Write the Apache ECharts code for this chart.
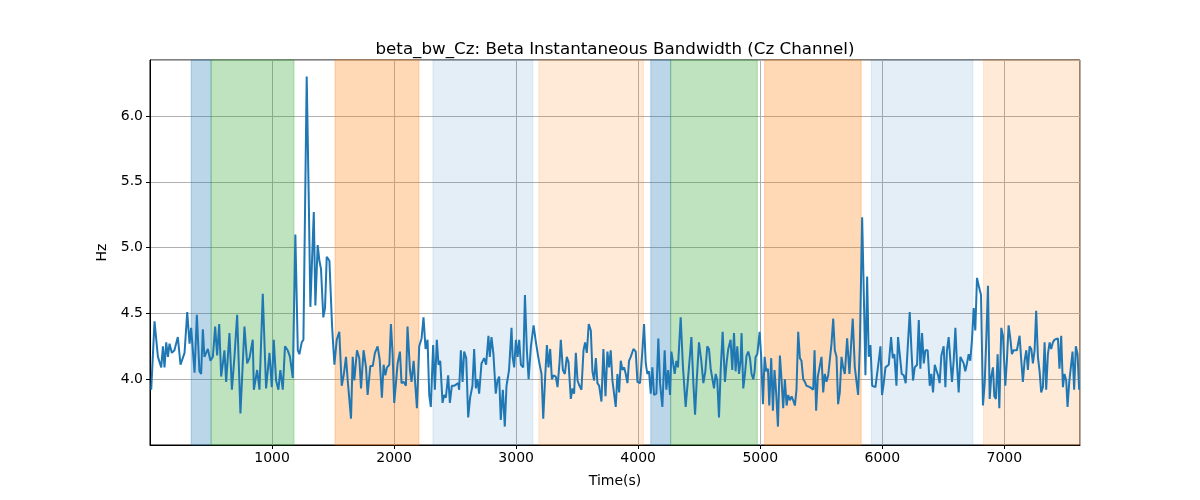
<!DOCTYPE html>
<html>
<head>
<meta charset="utf-8">
<script src="https://cdn.jsdelivr.net/npm/echarts@6/dist/echarts.min.js"></script>
<style>html,body{margin:0;padding:0;background:#fff}#c{width:1200px;height:500px}</style>
</head>
<body>
<div id="c"></div>
<script>
const times = [10,37,65,92,106,119,133,147,160,179,200,228,250,283,305,324,337,365,384,405,419,433,446,474,495,515,534,550,567,583,597,610,624,651,671,692,714,741,774,796,815,842,851,878,897,924,951,979,998,
1014,1033,1052,1068,1088,1106,1128,1147,1170,1191,1211,1224,1243,1257,1284,1301,1314,1328,1342,1355,1374,1388,1401,1420,1434,1448,1470,1492,1511,1530,1551,1571,1587,1606,1620,1647,1661,1674,1696,1715,1729,1750,1770,1783,1805,1825,1843,1865,1882,1900,1914,1928,1942,1961,1974,1988,
2001,2029,2048,2061,2078,2097,2110,2130,2143,2160,2173,2187,2206,2225,2241,2258,2274,2288,2301,2320,2334,2350,2364,2378,2397,2410,2424,2443,2457,2473,2492,2506,2525,2533,2547,2561,2574,2591,2607,2623,2642,2656,2670,2683,2697,2716,2738,2754,2773,2784,2798,2814,2833,2847,2861,2874,2891,2907,2921,2942,2962,
2971,2984,2998,3012,3025,3039,3058,3072,3088,3102,3121,3143,3162,3181,3197,3208,3222,3238,3252,3265,3279,3293,3306,3325,3339,3355,3366,3383,3399,3415,3429,3448,3462,3475,3489,3503,3519,3535,3552,3565,3579,3595,3612,3625,3639,3653,3666,3680,3699,3715,3732,3748,3762,3775,3789,3803,3816,3830,3844,3857,3871,3885,3898,3912,3925,
3939,3961,3980,3994,4015,4034,4048,4062,4075,4089,4103,4116,4130,4149,4165,4179,4198,4217,4231,4245,4261,4272,4285,4299,4313,4326,4348,4367,4389,4416,4436,4452,4466,4479,4498,4517,4534,4550,4566,4580,4594,4607,4621,4635,4648,4662,4676,4692,4711,4725,4738,4757,4771,4785,4798,4812,4826,4839,4847,4861,4875,4888,4902,4916,4929,4943,4954,
4962,4976,4995,5008,5022,5036,5049,5063,5074,5090,5104,5117,5131,5145,5161,5175,5188,5202,5216,5229,5243,5257,5270,5284,5297,5311,5325,5338,5352,5366,5379,5393,5407,5420,5434,5445,5458,5472,5486,5502,5516,5529,5543,5557,5570,5584,5598,5611,5625,5638,5652,5666,5679,5693,5712,5731,5745,5758,5775,5788,5802,5816,5835,5849,5862,5876,5889,5903,5917,5930,
5944,5958,5971,5985,5998,6012,6026,6039,6053,6072,6086,6099,6116,6129,6143,6159,6176,6192,6209,6225,6239,6252,6266,6285,6299,6312,6326,6340,6353,6372,6389,6402,6416,6430,6443,6457,6470,6484,6503,6517,6530,6544,6558,6571,6585,6599,6612,6626,6640,6653,6667,6680,6694,6708,6721,6735,6749,6762,6776,6790,6809,6825,6839,6852,6866,6880,6893,6907,6918,
6931,6945,6959,6975,6989,7008,7021,7035,7049,7062,7076,7090,7103,7125,7139,7152,7166,7180,7193,7207,7221,7234,7248,7261,7275,7289,7302,7316,7330,7343,7357,7371,7384,7398,7411,7425,7439,7452,7466,7480,7493,7507,7518,7532,7545,7559,7572,7586,7600,7613];

const values = [3.92,4.44,4.17,4.09,4.25,4.09,4.28,4.17,4.27,4.20,4.22,4.32,4.11,4.20,4.51,4.27,4.39,4.05,4.49,4.06,4.04,4.38,4.17,4.23,4.14,4.17,4.40,4.18,4.42,4.02,4.12,4.22,3.98,4.35,3.92,4.17,4.49,3.74,4.40,4.12,4.16,4.30,3.92,4.07,3.92,4.65,3.93,4.20,3.94,
4.30,3.99,3.92,4.07,3.92,4.25,4.22,4.17,4.01,5.10,4.22,4.19,4.28,4.30,6.30,5.36,4.55,4.55,5.27,4.56,5.02,4.90,4.84,4.47,4.54,4.93,4.90,4.40,4.11,4.30,4.36,3.95,4.03,4.17,3.99,3.70,4.17,3.99,4.22,4.16,3.93,4.22,4.09,3.88,4.10,4.10,4.20,4.25,4.15,3.86,4.11,4.03,4.09,4.11,4.42,4.19,
3.82,4.12,4.21,3.97,3.98,3.95,4.40,4.07,3.98,4.14,4.14,3.78,4.25,4.31,4.47,4.23,4.30,3.88,3.79,4.26,3.92,4.30,4.11,4.14,3.82,3.88,3.86,4.03,3.82,3.95,3.95,3.94,3.97,3.92,4.22,3.98,4.21,4.16,3.71,3.86,3.95,4.23,3.93,4.00,3.89,4.12,4.16,4.11,4.33,4.17,4.32,4.19,3.89,3.99,4.02,3.69,3.92,3.64,3.95,4.07,4.39,
4.17,4.09,4.30,4.17,4.30,4.11,4.09,4.64,4.22,4.00,4.25,4.41,4.28,4.17,4.09,4.04,3.70,4.02,4.26,4.09,4.23,4.00,4.03,4.02,3.94,4.12,4.30,4.07,4.04,4.17,4.13,3.85,3.93,3.89,4.20,3.99,3.95,3.92,4.22,4.28,4.20,4.42,4.37,4.06,3.99,4.16,3.97,3.95,3.83,4.23,3.87,4.21,4.09,4.22,3.99,3.99,3.79,4.04,3.90,4.14,4.07,4.09,4.04,3.97,4.14,
4.17,4.23,4.21,3.98,3.97,4.21,4.42,4.12,4.04,4.06,3.89,4.09,3.88,3.89,4.31,3.97,3.79,4.22,3.92,4.07,3.88,4.21,4.20,4.04,4.14,4.09,4.47,4.09,3.79,4.09,4.32,3.97,3.73,3.98,4.28,4.14,3.97,4.06,4.25,4.23,4.08,4.07,3.93,4.04,3.99,3.71,4.07,4.36,3.98,4.13,4.23,4.30,4.07,4.35,4.06,4.25,4.04,4.14,4.35,3.93,4.04,4.18,4.21,4.16,4.04,4.00,4.06,
4.17,4.19,4.36,4.17,3.81,4.17,4.06,4.08,3.80,4.16,3.76,4.07,3.89,3.64,4.18,3.99,3.78,4.00,3.80,3.88,3.84,3.87,3.84,3.80,3.92,4.36,4.16,4.14,4.00,3.98,3.95,3.94,3.94,3.93,3.92,4.22,3.76,4.02,4.02,4.17,3.90,4.04,3.98,4.03,4.02,4.27,4.46,4.22,4.17,3.81,3.90,4.17,4.09,4.04,4.31,4.04,4.27,4.46,4.09,3.99,3.88,4.25,5.23,4.63,4.03,4.78,4.17,4.26,3.95,3.94,
3.94,3.94,4.14,4.25,3.88,3.97,4.09,4.09,4.11,4.32,4.16,4.19,3.95,4.32,4.19,4.04,4.03,3.97,4.25,4.51,4.22,3.99,4.09,4.11,4.45,4.08,4.35,4.12,4.22,4.22,3.95,4.04,3.90,4.11,4.07,4.03,3.97,4.18,4.25,3.94,4.22,4.32,4.14,3.98,4.14,4.39,4.12,3.90,4.17,4.17,4.12,4.06,4.12,4.19,4.14,4.30,4.54,4.37,4.77,4.71,4.64,3.80,3.97,4.30,4.71,3.85,4.02,4.09,3.87,
3.85,4.19,3.78,4.39,4.33,3.95,4.14,4.41,4.31,4.19,4.22,4.23,4.22,4.33,4.14,3.98,4.14,4.22,4.07,4.25,4.23,4.12,4.22,4.52,4.17,4.06,3.90,3.94,4.28,3.92,4.19,4.28,4.23,4.28,4.30,4.30,4.31,4.08,4.33,3.94,4.04,3.99,3.79,3.98,3.97,4.21,3.92,4.25,4.19,3.92];

const bandStart = [337, 501, 1516, 2318, 3186, 4103, 4266, 5036, 5910, 6830];
const bandEnd   = [501, 1180, 2204, 3137, 4043, 4266, 4976, 5827, 6742, 7620];
const bandKind  = ['blue','green','orange','ltblue','ltorange','blue','green','orange','ltblue','ltorange'];

const xTicks = [1000, 2000, 3000, 4000, 5000, 6000, 7000];
const yTicks = [4.0, 4.5, 5.0, 5.5, 6.0];

const kindColor = {
  blue: 'rgba(31,119,180,0.3)',
  green: 'rgba(44,160,44,0.3)',
  orange: 'rgba(255,127,14,0.3)',
  ltblue: 'rgba(31,119,180,0.12)',
  ltorange: 'rgba(255,127,14,0.16)'
};

const font = 'DejaVu Sans';
const lineData = times.map((t, i) => [t, values[i]]);
const areas = bandStart.map((s, i) => [
  { xAxis: s, itemStyle: { color: kindColor[bandKind[i]], borderColor: kindColor[bandKind[i]], borderWidth: 1 } },
  { xAxis: bandEnd[i] }
]);

const chart = echarts.init(document.getElementById('c'), null, { renderer: 'canvas' });
chart.setOption({
  animation: false,
  backgroundColor: '#fff',
  title: {
    text: 'beta_bw_Cz: Beta Instantaneous Bandwidth (Cz Channel)',
    left: 610, top: 36, textAlign: 'center',
    textStyle: { fontFamily: font, fontSize: 16.7, fontWeight: 'normal', color: '#000' }
  },
  grid: { left: 150, right: 120, top: 60, bottom: 55, show: true, borderColor: '#000', borderWidth: 1, backgroundColor: 'transparent' },
  xAxis: {
    type: 'value', min: 0, max: 7620, interval: 1000,
    name: 'Time(s)', nameLocation: 'middle', nameGap: 29,
    nameTextStyle: { fontFamily: font, fontSize: 14, color: '#000' },
    axisLine: { show: true, lineStyle: { color: '#000', width: 1 } },
    axisTick: { show: true, length: 4, lineStyle: { color: '#000' } },
    axisLabel: { showMinLabel: false, showMaxLabel: false, margin: 6, fontFamily: font, fontSize: 14, color: '#000',
      formatter: v => xTicks.includes(v) ? String(v) : '' },
    splitLine: { show: true, lineStyle: { color: '#b0b0b0', width: 1 } }
  },
  yAxis: {
    type: 'value', min: 3.5, max: 6.426, interval: 0.5,
    name: 'Hz', nameLocation: 'middle', nameGap: 38,
    nameTextStyle: { fontFamily: font, fontSize: 14, color: '#000' },
    axisLine: { show: true, lineStyle: { color: '#000', width: 1 } },
    axisTick: { show: true, length: 4, lineStyle: { color: '#000' } },
    axisLabel: { showMinLabel: false, showMaxLabel: false, margin: 7, fontFamily: font, fontSize: 14, color: '#000',
      formatter: v => yTicks.some(t => Math.abs(t - v) < 1e-6) ? v.toFixed(1) : '' },
    splitLine: { show: true, lineStyle: { color: '#b0b0b0', width: 1 } }
  },
  series: [
    {
      type: 'line', z: -1, data: [], silent: true,
      markArea: { silent: true, data: areas }
    },
    {
      type: 'line', z: 3, data: lineData, showSymbol: false, symbol: 'none',
      lineStyle: { color: '#1f77b4', width: 2 }, itemStyle: { color: '#1f77b4' }
    }
  ]
});
</script>
</body>
</html>
